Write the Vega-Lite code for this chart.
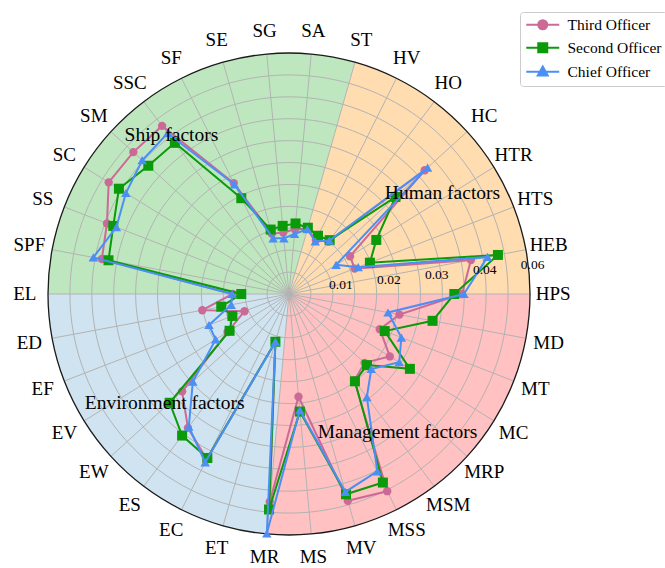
{
  "$schema": "https://vega.github.io/schema/vega-lite/v6.json",
  "width": 482,
  "height": 482,
  "autosize": "none",
  "padding": {"left": 48, "top": 53, "right": 135, "bottom": 33},
  "background": "white",
  "config": {"view": {"stroke": null}, "font": "Liberation Serif"},
  "datasets": {
    "d": [
      {"cat": "HPS", "group": "Human factors", "Third Officer": 0.0359, "Second Officer": 0.0343, "Chief Officer": 0.0363},
      {"cat": "HEB", "group": "Human factors", "Third Officer": 0.0384, "Second Officer": 0.0441, "Chief Officer": 0.0419},
      {"cat": "HTS", "group": "Human factors", "Third Officer": 0.0146, "Second Officer": 0.0180, "Chief Officer": 0.0154},
      {"cat": "HTR", "group": "Human factors", "Third Officer": 0.0149, "Second Officer": 0.0213, "Chief Officer": 0.0115},
      {"cat": "HC", "group": "Human factors", "Third Officer": 0.0381, "Second Officer": 0.0299, "Chief Officer": 0.0389},
      {"cat": "HO", "group": "Human factors", "Third Officer": 0.0136, "Second Officer": 0.0140, "Chief Officer": 0.0139},
      {"cat": "HV", "group": "Human factors", "Third Officer": 0.0125, "Second Officer": 0.0135, "Chief Officer": 0.0122},
      {"cat": "ST", "group": "Ship factors", "Third Officer": 0.0141, "Second Officer": 0.0143, "Chief Officer": 0.0140},
      {"cat": "SA", "group": "Ship factors", "Third Officer": 0.0135, "Second Officer": 0.0147, "Chief Officer": 0.0125},
      {"cat": "SG", "group": "Ship factors", "Third Officer": 0.0128, "Second Officer": 0.0142, "Chief Officer": 0.0116},
      {"cat": "SE", "group": "Ship factors", "Third Officer": 0.0130, "Second Officer": 0.0139, "Chief Officer": 0.0120},
      {"cat": "SF", "group": "Ship factors", "Third Officer": 0.0257, "Second Officer": 0.0222, "Chief Officer": 0.0254},
      {"cat": "SSC", "group": "Ship factors", "Third Officer": 0.0437, "Second Officer": 0.0393, "Chief Officer": 0.0418},
      {"cat": "SM", "group": "Ship factors", "Third Officer": 0.0437, "Second Officer": 0.0395, "Chief Officer": 0.0412},
      {"cat": "SC", "group": "Ship factors", "Third Officer": 0.0440, "Second Officer": 0.0415, "Chief Officer": 0.0398},
      {"cat": "SS", "group": "Ship factors", "Third Officer": 0.0405, "Second Officer": 0.0391, "Chief Officer": 0.0384},
      {"cat": "SPF", "group": "Ship factors", "Third Officer": 0.0395, "Second Officer": 0.0381, "Chief Officer": 0.0413},
      {"cat": "EL", "group": "Environment factors", "Third Officer": 0.0117, "Second Officer": 0.0099, "Chief Officer": 0.0118},
      {"cat": "ED", "group": "Environment factors", "Third Officer": 0.0183, "Second Officer": 0.0143, "Chief Officer": 0.0122},
      {"cat": "EF", "group": "Environment factors", "Third Officer": 0.0099, "Second Officer": 0.0126, "Chief Officer": 0.0178},
      {"cat": "EV", "group": "Environment factors", "Third Officer": 0.0150, "Second Officer": 0.0145, "Chief Officer": 0.0179},
      {"cat": "EW", "group": "Environment factors", "Third Officer": 0.0300, "Second Officer": 0.0335, "Chief Officer": 0.0270},
      {"cat": "ES", "group": "Environment factors", "Third Officer": 0.0348, "Second Officer": 0.0368, "Chief Officer": 0.0345},
      {"cat": "EC", "group": "Environment factors", "Third Officer": 0.0383, "Second Officer": 0.0380, "Chief Officer": 0.0390},
      {"cat": "ET", "group": "Environment factors", "Third Officer": 0.0103, "Second Officer": 0.0103, "Chief Officer": 0.0103},
      {"cat": "MR", "group": "Management factors", "Third Officer": 0.0433, "Second Officer": 0.0449, "Chief Officer": 0.0499},
      {"cat": "MS", "group": "Management factors", "Third Officer": 0.0214, "Second Officer": 0.0245, "Chief Officer": 0.0242},
      {"cat": "MV", "group": "Management factors", "Third Officer": 0.0446, "Second Officer": 0.0432, "Chief Officer": 0.0427},
      {"cat": "MSS", "group": "Management factors", "Third Officer": 0.0457, "Second Officer": 0.0437, "Chief Officer": 0.0411},
      {"cat": "MSM", "group": "Management factors", "Third Officer": 0.0225, "Second Officer": 0.0227, "Chief Officer": 0.0268},
      {"cat": "MRP", "group": "Management factors", "Third Officer": 0.0212, "Second Officer": 0.0219, "Chief Officer": 0.0231},
      {"cat": "MC", "group": "Management factors", "Third Officer": 0.0246, "Second Officer": 0.0295, "Chief Officer": 0.0269},
      {"cat": "MT", "group": "Management factors", "Third Officer": 0.0202, "Second Officer": 0.0213, "Chief Officer": 0.0250},
      {"cat": "MD", "group": "Management factors", "Third Officer": 0.0233, "Second Officer": 0.0303, "Chief Officer": 0.0209}
    ],
    "rt": [
      {"t": "0.01", "r": 0.01}, {"t": "0.02", "r": 0.02}, {"t": "0.03", "r": 0.03},
      {"t": "0.04", "r": 0.04}, {"t": "0.06", "r": 0.05}
    ],
    "sl": [
      {"t": "Ship factors", "deg": 126.5, "r": 0.0410},
      {"t": "Human factors", "deg": 33.3, "r": 0.0381},
      {"t": "Environment factors", "deg": 221.2, "r": 0.0343},
      {"t": "Management factors", "deg": 308.2, "r": 0.0364}
    ]
  },
  "layer": [
    {
      "data": {"name": "d"},
      "transform": [
        {"window": [{"op": "row_number", "as": "i"}]},
        {"aggregate": [{"op": "count", "as": "n"}, {"op": "min", "field": "i", "as": "first"}], "groupby": ["group"]},
        {"calculate": "0.05", "as": "rr"}
      ],
      "mark": {"type": "arc", "strokeWidth": 0},
      "encoding": {
        "theta": {"field": "n", "type": "quantitative", "stack": true, "scale": {"range": [{"expr": "PI/2"}, {"expr": "PI*2.5"}]}},
        "order": {"field": "first", "type": "quantitative", "sort": "descending"},
        "radius": {"field": "rr", "type": "quantitative", "scale": {"type": "linear", "domain": [0, 0.05], "range": [0, {"expr": "width/2"}], "zero": true}},
        "fill": {"field": "group", "type": "nominal", "legend": null,
          "scale": {"domain": ["Human factors", "Ship factors", "Environment factors", "Management factors"],
                    "range": ["#ffddb0", "#bfe7bf", "#cfe4f0", "#ffc1c1"]}}
      }
    },
    {
      "data": {"name": "d"},
      "transform": [
        {"window": [{"op": "row_number", "as": "i"}]},
        {"joinaggregate": [{"op": "count", "as": "n"}]},
        {"calculate": "(datum.i-1)*2*PI/datum.n", "as": "a"},
        {"calculate": "[0.004545, 0.00909, 0.013636, 0.018182, 0.022727, 0.027273, 0.031818, 0.036364, 0.040909, 0.045455]", "as": "rs"},
        {"flatten": ["rs"], "as": ["r"]},
        {"calculate": "datum.r*cos(datum.a)", "as": "gx"},
        {"calculate": "datum.r*sin(datum.a)", "as": "gy"}
      ],
      "mark": {"type": "line", "interpolate": "cardinal-closed", "color": "#b3b3b3", "strokeWidth": 1},
      "encoding": {
        "x": {"field": "gx", "type": "quantitative", "scale": {"domain": [-0.05, 0.05], "nice": false, "zero": false}, "axis": null},
        "y": {"field": "gy", "type": "quantitative", "scale": {"domain": [-0.05, 0.05], "nice": false, "zero": false}, "axis": null},
        "detail": {"field": "r", "type": "nominal"},
        "order": {"field": "i", "type": "quantitative"}
      }
    },
    {
      "data": {"name": "d"},
      "transform": [
        {"window": [{"op": "row_number", "as": "i"}]},
        {"joinaggregate": [{"op": "count", "as": "n"}]},
        {"calculate": "(datum.i-1)*2*PI/datum.n", "as": "a"},
        {"calculate": "0", "as": "z"},
        {"calculate": "0.05*cos(datum.a)", "as": "ex"},
        {"calculate": "0.05*sin(datum.a)", "as": "ey"}
      ],
      "mark": {"type": "rule", "color": "#b3b3b3", "strokeWidth": 1},
      "encoding": {
        "x": {"field": "z", "type": "quantitative", "scale": {"domain": [-0.05, 0.05], "nice": false, "zero": false}, "axis": null},
        "y": {"field": "z", "type": "quantitative", "scale": {"domain": [-0.05, 0.05], "nice": false, "zero": false}, "axis": null},
        "x2": {"field": "ex"},
        "y2": {"field": "ey"}
      }
    },
    {
      "data": {"name": "d"},
      "transform": [
        {"window": [{"op": "row_number", "as": "i"}]},
        {"joinaggregate": [{"op": "count", "as": "n"}]},
        {"calculate": "(datum.i-1)*2*PI/datum.n", "as": "a"},
        {"calculate": "0.05*cos(datum.a)", "as": "ex"},
        {"calculate": "0.05*sin(datum.a)", "as": "ey"}
      ],
      "mark": {"type": "line", "interpolate": "cardinal-closed", "color": "#1a1a1a", "strokeWidth": 1.3},
      "encoding": {
        "x": {"field": "ex", "type": "quantitative", "scale": {"domain": [-0.05, 0.05], "nice": false, "zero": false}, "axis": null},
        "y": {"field": "ey", "type": "quantitative", "scale": {"domain": [-0.05, 0.05], "nice": false, "zero": false}, "axis": null},
        "order": {"field": "i", "type": "quantitative"}
      }
    },
    {
      "data": {"name": "d"},
      "transform": [
        {"window": [{"op": "row_number", "as": "i"}]},
        {"joinaggregate": [{"op": "count", "as": "n"}]},
        {"calculate": "(datum.i-1)*2*PI/datum.n", "as": "a"},
        {"fold": ["Third Officer", "Second Officer", "Chief Officer"], "as": ["officer", "v"]},
        {"filter": "datum.officer == 'Third Officer'"},
        {"calculate": "datum.v*cos(datum.a)", "as": "x"},
        {"calculate": "datum.v*sin(datum.a)", "as": "y"}
      ],
      "encoding": {
        "x": {"field": "x", "type": "quantitative", "scale": {"domain": [-0.05, 0.05], "nice": false, "zero": false}, "axis": null},
        "y": {"field": "y", "type": "quantitative", "scale": {"domain": [-0.05, 0.05], "nice": false, "zero": false}, "axis": null},
        "color": {"field": "officer", "type": "nominal",
          "scale": {"domain": ["Third Officer", "Second Officer", "Chief Officer"], "range": ["#cc6a97", "#0a9a0a", "#4b8ff5"]},
          "legend": {
            "orient": "none", "legendX": 472, "legendY": -41, "title": null,
            "padding": 5, "symbolOffset": 10, "labelOffset": 17, "rowPadding": 5,
            "labelFontSize": 15.5, "labelFont": "Liberation Serif", "labelColor": "black", "labelLimit": 200,
            "strokeColor": "#cccccc", "fillColor": "white", "cornerRadius": 3, "symbolSize": 100,
            "encode": {"symbols": {"update": {
              "shape": {"signal": "datum.value == 'Third Officer' ? 'M-3.3,0H3.3M0.9,0A0.9,0.9,0,1,1,-0.9,0A0.9,0.9,0,1,1,0.9,0Z' : datum.value == 'Second Officer' ? 'M-3.3,0H3.3M-0.9,-0.9H0.9V0.9H-0.9Z' : 'M-3.3,0H3.3M0,-1.05L1,0.75H-1Z'"},
              "fill": {"scale": "color", "field": "value"},
              "stroke": {"scale": "color", "field": "value"},
              "strokeWidth": {"value": 2},
              "opacity": {"value": 1},
              "size": {"value": 100}
            }}}
          }}
      },
      "layer": [
        {
          "mark": {"type": "line", "interpolate": "linear-closed", "strokeWidth": 2},
          "encoding": {"order": {"field": "i", "type": "quantitative"}}
        },
        {
          "mark": {"type": "point", "filled": true, "opacity": 1, "size": 70, "shape": "circle"}
        }
      ]
    },
    {
      "data": {"name": "d"},
      "transform": [
        {"window": [{"op": "row_number", "as": "i"}]},
        {"joinaggregate": [{"op": "count", "as": "n"}]},
        {"calculate": "(datum.i-1)*2*PI/datum.n", "as": "a"},
        {"fold": ["Third Officer", "Second Officer", "Chief Officer"], "as": ["officer", "v"]},
        {"filter": "datum.officer == 'Second Officer'"},
        {"calculate": "datum.v*cos(datum.a)", "as": "x"},
        {"calculate": "datum.v*sin(datum.a)", "as": "y"}
      ],
      "encoding": {
        "x": {"field": "x", "type": "quantitative", "scale": {"domain": [-0.05, 0.05], "nice": false, "zero": false}, "axis": null},
        "y": {"field": "y", "type": "quantitative", "scale": {"domain": [-0.05, 0.05], "nice": false, "zero": false}, "axis": null},
        "color": {"field": "officer", "type": "nominal",
          "scale": {"domain": ["Third Officer", "Second Officer", "Chief Officer"], "range": ["#cc6a97", "#0a9a0a", "#4b8ff5"]}}
      },
      "layer": [
        {
          "mark": {"type": "line", "interpolate": "linear-closed", "strokeWidth": 2},
          "encoding": {"order": {"field": "i", "type": "quantitative"}}
        },
        {
          "mark": {"type": "point", "filled": true, "opacity": 1, "size": 100, "shape": "square"}
        }
      ]
    },
    {
      "data": {"name": "d"},
      "transform": [
        {"window": [{"op": "row_number", "as": "i"}]},
        {"joinaggregate": [{"op": "count", "as": "n"}]},
        {"calculate": "(datum.i-1)*2*PI/datum.n", "as": "a"},
        {"fold": ["Third Officer", "Second Officer", "Chief Officer"], "as": ["officer", "v"]},
        {"filter": "datum.officer == 'Chief Officer'"},
        {"calculate": "datum.v*cos(datum.a)", "as": "x"},
        {"calculate": "datum.v*sin(datum.a)", "as": "y"}
      ],
      "encoding": {
        "x": {"field": "x", "type": "quantitative", "scale": {"domain": [-0.05, 0.05], "nice": false, "zero": false}, "axis": null},
        "y": {"field": "y", "type": "quantitative", "scale": {"domain": [-0.05, 0.05], "nice": false, "zero": false}, "axis": null},
        "color": {"field": "officer", "type": "nominal",
          "scale": {"domain": ["Third Officer", "Second Officer", "Chief Officer"], "range": ["#cc6a97", "#0a9a0a", "#4b8ff5"]}}
      },
      "layer": [
        {
          "mark": {"type": "line", "interpolate": "linear-closed", "strokeWidth": 2},
          "encoding": {"order": {"field": "i", "type": "quantitative"}}
        },
        {
          "mark": {"type": "point", "filled": true, "opacity": 1, "size": 90, "shape": "triangle-up"}
        }
      ]
    },
    {
      "data": {"name": "d"},
      "transform": [
        {"window": [{"op": "row_number", "as": "i"}]},
        {"joinaggregate": [{"op": "count", "as": "n"}]},
        {"calculate": "(datum.i-1)*2*PI/datum.n", "as": "a"},
        {"calculate": "0.0548*cos(datum.a)", "as": "lx"},
        {"calculate": "0.0548*sin(datum.a)", "as": "ly"}
      ],
      "mark": {"type": "text", "font": "Liberation Serif", "fontSize": 19, "color": "black", "align": "center", "baseline": "middle"},
      "encoding": {
        "x": {"field": "lx", "type": "quantitative", "scale": {"domain": [-0.05, 0.05], "nice": false, "zero": false}, "axis": null},
        "y": {"field": "ly", "type": "quantitative", "scale": {"domain": [-0.05, 0.05], "nice": false, "zero": false}, "axis": null},
        "text": {"field": "cat"}
      }
    },
    {
      "data": {"name": "rt"},
      "transform": [
        {"calculate": "datum.r*cos(6*PI/180)", "as": "lx"},
        {"calculate": "datum.r*sin(6*PI/180)", "as": "ly"}
      ],
      "mark": {"type": "text", "font": "Liberation Serif", "fontSize": 13.5, "color": "black", "align": "center", "baseline": "middle", "dx": 4, "dy": -4},
      "encoding": {
        "x": {"field": "lx", "type": "quantitative", "scale": {"domain": [-0.05, 0.05], "nice": false, "zero": false}, "axis": null},
        "y": {"field": "ly", "type": "quantitative", "scale": {"domain": [-0.05, 0.05], "nice": false, "zero": false}, "axis": null},
        "text": {"field": "t"}
      }
    },
    {
      "data": {"name": "sl"},
      "transform": [
        {"calculate": "datum.r*cos(datum.deg*PI/180)", "as": "lx"},
        {"calculate": "datum.r*sin(datum.deg*PI/180)", "as": "ly"}
      ],
      "mark": {"type": "text", "font": "Liberation Serif", "fontSize": 19.5, "color": "black", "align": "center", "baseline": "middle"},
      "encoding": {
        "x": {"field": "lx", "type": "quantitative", "scale": {"domain": [-0.05, 0.05], "nice": false, "zero": false}, "axis": null},
        "y": {"field": "ly", "type": "quantitative", "scale": {"domain": [-0.05, 0.05], "nice": false, "zero": false}, "axis": null},
        "text": {"field": "t"}
      }
    }
  ]
}
